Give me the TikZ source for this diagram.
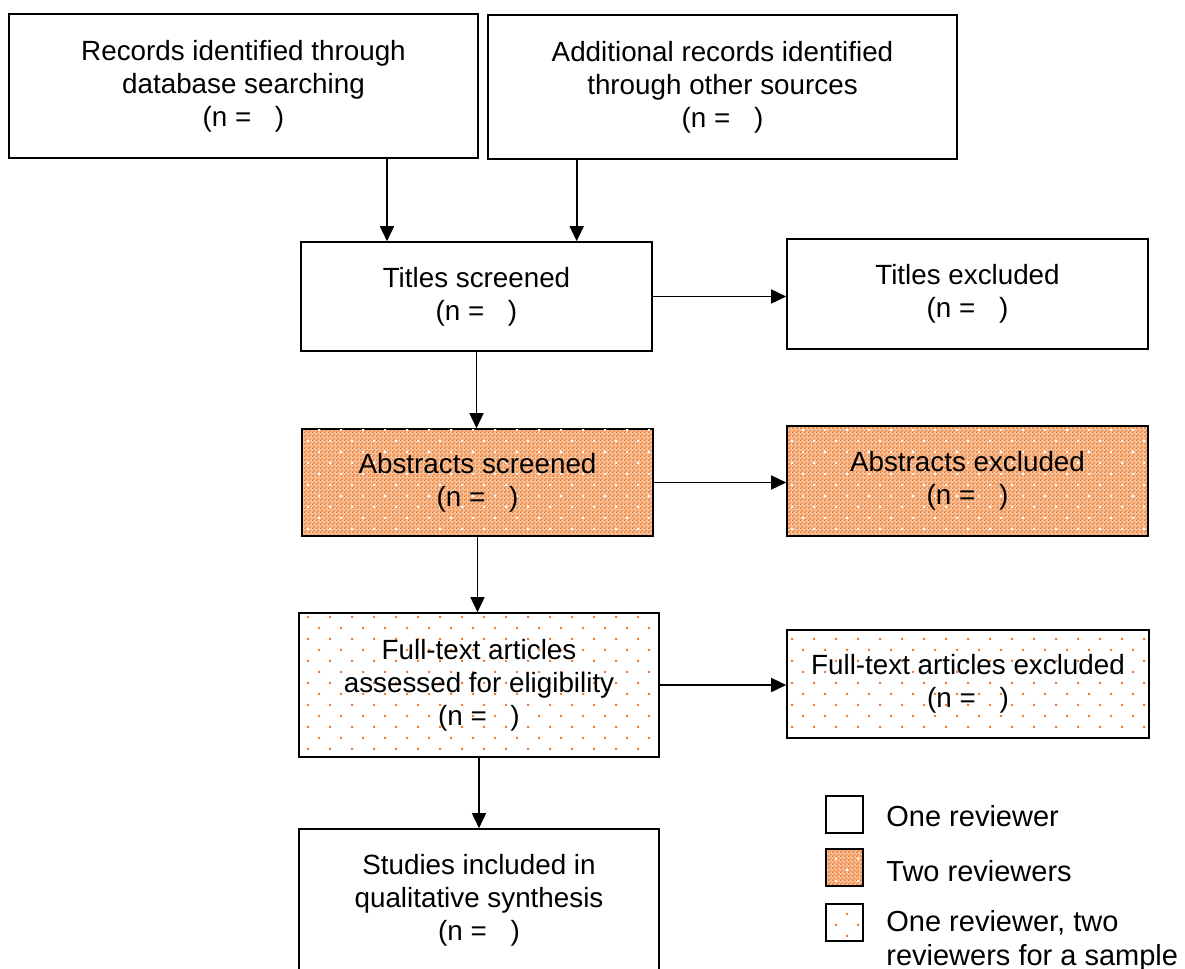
\documentclass[tikz,border=0pt]{standalone}
\usepackage{fontspec}
\setmainfont{Liberation Sans}
\usetikzlibrary{arrows.meta}
\usetikzlibrary{patterns}

\definecolor{revorange}{RGB}{237,125,49}

\pgfdeclarepatternformonly{finechecks}{\pgfpointorigin}{\pgfpoint{2pt}{2pt}}{\pgfpoint{2pt}{2pt}}{%
  \pgfpathrectangle{\pgfpointorigin}{\pgfpoint{1pt}{1pt}}%
  \pgfpathrectangle{\pgfpoint{1pt}{1pt}}{\pgfpoint{1pt}{1pt}}%
  \pgfusepath{fill}}
\pgfdeclarepatternformonly{sparsedots}{\pgfpoint{-1pt}{-1pt}}{\pgfpoint{12pt}{12pt}}{\pgfpoint{11pt}{11pt}}{%
  \pgfpathrectangle{\pgfpoint{-0.5pt}{-0.5pt}}{\pgfpoint{1pt}{1pt}}%
  \pgfpathrectangle{\pgfpoint{5pt}{5pt}}{\pgfpoint{1pt}{1pt}}%
  \pgfusepath{fill}}

\newcommand{\nempty}{(n =\hspace{0.85em})}

\begin{document}
\begin{tikzpicture}[x=0.5pt, y=-0.5pt]
            \tikzstyle{arrow} = [line width=0.8pt,-{Triangle[length=7.5pt,width=7pt]}]
            \tikzstyle{box} = [draw, line width=0.8pt, align=center, inner sep=0pt, font=\fontsize{13.9}{16.5}\selectfont]
            \tikzstyle{tworev} = [preaction={fill=revorange!45}, pattern=finechecks, pattern color=revorange, postaction={pattern=sparsedots, pattern color=white}]
            \tikzstyle{samplerev} = [pattern=sparsedots, pattern color=revorange]
            \tikzstyle{legtext} = [anchor=west, align=left, inner sep=0pt, font=\fontsize{14.5}{16.7}\selectfont]
            \useasboundingbox (0, 0) rectangle (1185, 969);

            \node[box, minimum width=234.5pt, minimum height=72pt] (rec1) at (243.5, 86) {Records identified through\\database searching\\\nempty};
            \node[box, minimum width=234.5pt, minimum height=72pt] (rec2) at (722.5, 87) {Additional records identified\\through other sources\\\nempty};

            \node[box, minimum width=175.5pt, minimum height=54.5pt] (titles) at (476.5, 296.5) {Titles screened\\\nempty};
            \node[box, minimum width=180.5pt, minimum height=55pt] (titlesx) at (967.5, 294) {Titles excluded\\\nempty};

            \node[box, tworev, minimum width=175.5pt, minimum height=53.5pt] (abs) at (477.5, 482.5) {Abstracts screened\\\nempty};
            \node[box, tworev, minimum width=180.5pt, minimum height=55pt] (absx) at (967.5, 481) {Abstracts excluded\\\nempty};

            \node[box, samplerev, minimum width=180pt, minimum height=72pt] (ft) at (479, 685) {Full-text articles\\assessed for eligibility\\\nempty};
            \node[box, samplerev, minimum width=181pt, minimum height=54pt] (ftx) at (968, 684) {Full-text articles excluded\\\nempty};

            \node[box, minimum width=180pt, minimum height=71.5pt] (studies) at (479, 900.5) {Studies included in\\qualitative synthesis\\\nempty};

            \coordinate (in1) at ([xshift=-44.75pt]titles.north);
            \coordinate (in2) at ([xshift=50.1pt]titles.north);
            \draw [arrow] (in1 |- rec1.south) -- (in1);
            \draw [arrow] (in2 |- rec2.south) -- (in2);

            \draw [arrow] (titles.east) -- (titles.east -| titlesx.west);
            \draw [arrow] (titles.south) -- (titles.south |- abs.north);
            \draw [arrow] (abs.east) -- (abs.east -| absx.west);
            \draw [arrow] (abs.south) -- (abs.south |- ft.north);
            \draw [arrow] (ft.east) -- (ft.east -| ftx.west);
            \draw [arrow] (ft.south) -- (studies.north);

            \node[box, minimum size=18.5pt] (legone) at (844.5, 814.5) {};
            \node[box, tworev, minimum size=18.5pt] (legtwo) at (844.5, 867.5) {};
            \node[box, samplerev, minimum size=18.5pt] (legsample) at (844.5, 922.5) {};
            \node[legtext] (legonetext) at (886, 816) {One reviewer};
            \node[legtext] (legtwotext) at (886, 871) {Two reviewers};
            \node[legtext] (legsampletext) at (886, 941) {One reviewer, two\\reviewers for a sample};
            
        \end{tikzpicture}
\end{document}
